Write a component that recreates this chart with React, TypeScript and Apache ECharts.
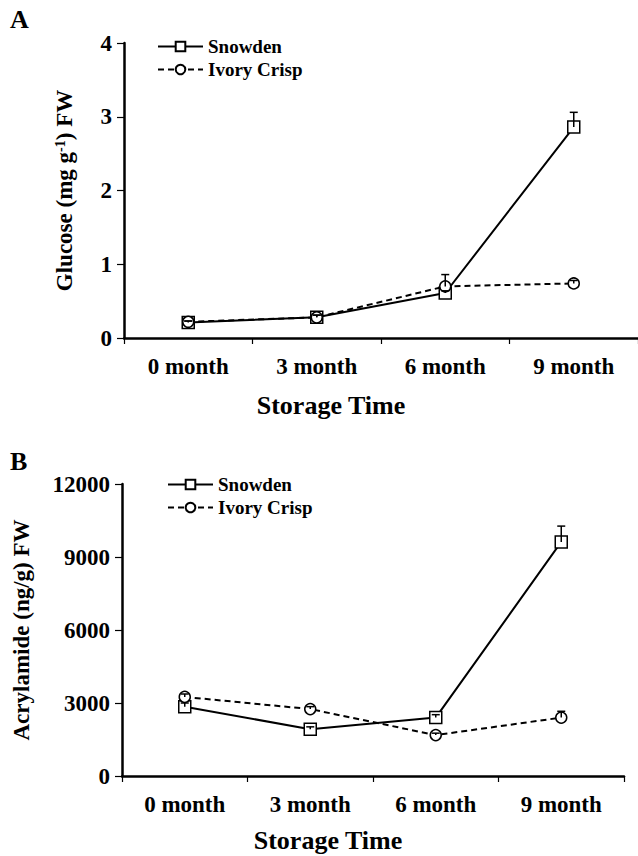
import React, { useEffect, useRef } from "react";
import * as echarts from "echarts";

const categories = ["0 month", "3 month", "6 month", "9 month"];
const glucoseSnowden = [0.21, 0.28, 0.61, 2.86];
const glucoseSnowdenErr = [0.02, 0.03, 0.03, 0.2];
const glucoseIvory = [0.22, 0.28, 0.7, 0.74];
const glucoseIvoryErr = [0.01, 0.03, 0.16, 0.04];
const acrylSnowden = [2850, 1920, 2400, 9620];
const acrylSnowdenErr = [150, 100, 120, 650];
const acrylIvory = [3250, 2750, 1680, 2400];
const acrylIvoryErr = [120, 100, 80, 260];

const FONT = "'Liberation Serif', 'Times New Roman', serif";

function errSeries(idx: number, vals: number[], errs: number[]) {
  return {
    type: "custom",
    xAxisIndex: idx,
    yAxisIndex: idx,
    z: 5,
    silent: true,
    encode: { x: 0, y: 1 },
    data: vals.map((v, i) => [i, v, errs[i]]),
    renderItem: (params: any, api: any) => {
      const x = api.value(0);
      const v = api.value(1);
      const e = api.value(2);
      const p0 = api.coord([x, v]);
      const p1 = api.coord([x, v + e]);
      const style = { stroke: "#000", lineWidth: 1.5 };
      return {
        type: "group",
        children: [
          { type: "line", shape: { x1: p0[0], y1: p0[1], x2: p1[0], y2: p1[1] }, style },
          { type: "line", shape: { x1: p1[0] - 4, y1: p1[1], x2: p1[0] + 4, y2: p1[1] }, style },
        ],
      };
    },
  };
}

function lineSeries(name: string, idx: number, vals: number[], dashed: boolean) {
  return {
    name,
    type: "line",
    xAxisIndex: idx,
    yAxisIndex: idx,
    data: vals,
    symbol: dashed ? "circle" : "rect",
    symbolSize: dashed ? 11 : 12,
    z: dashed ? 4 : 3,
    lineStyle: { color: "#000", width: 2, type: dashed ? [6, 4] : "solid" },
    itemStyle: { color: "#fff", borderColor: "#000", borderWidth: 1.5 },
  };
}

const tickLabel = { fontFamily: FONT, fontWeight: "bold", fontSize: 23, color: "#000" };

function xAxis(idx: number) {
  return {
    type: "category",
    gridIndex: idx,
    data: categories,
    boundaryGap: true,
    axisLine: { lineStyle: { color: "#000", width: 2.5 } },
    axisTick: { show: true, length: 6, lineStyle: { color: "#000", width: 1.2 } },
    axisLabel: { ...tickLabel, margin: 17 },
    splitLine: { show: false },
  };
}

function yAxis(idx: number, max: number, interval: number, name: string, gap: number) {
  return {
    type: "value",
    gridIndex: idx,
    min: 0,
    max,
    interval,
    name,
    nameLocation: "middle",
    nameGap: gap,
    nameMoveOverlap: false,
    nameTextStyle: {
      fontFamily: FONT,
      fontWeight: "bold",
      fontSize: 23,
      color: "#000",
      rich: {
        sup: { fontFamily: FONT, fontWeight: "bold", fontSize: 14, color: "#000", verticalAlign: "top", lineHeight: 14 },
      },
    },
    axisLine: { show: true, lineStyle: { color: "#000", width: 2.5 } },
    axisTick: { show: true, length: 7, lineStyle: { color: "#000", width: 1.2 } },
    axisLabel: { ...tickLabel, margin: 12, formatter: (v: number) => String(v) },
    splitLine: { show: false },
  };
}

function legend(left: number, top: number) {
  return {
    left,
    top,
    padding: 0,
    orient: "vertical",
    itemWidth: 45,
    itemHeight: 12,
    itemGap: 4,
    data: ["Snowden", "Ivory Crisp"],
    textStyle: { fontFamily: FONT, fontWeight: "bold", fontSize: 19, color: "#000" },
    selectedMode: false,
  };
}

export default function App() {
  const ref = useRef<HTMLDivElement>(null);
  useEffect(() => {
    if (!ref.current) return;
    const chart = echarts.init(ref.current, undefined, { renderer: "svg" });
    chart.setOption({
      animation: false,
      backgroundColor: "#fff",
      grid: [
        { left: 124, top: 43, width: 514, height: 295 },
        { left: 122, top: 484, width: 502, height: 292 },
      ],
      xAxis: [xAxis(0), xAxis(1)],
      yAxis: [
        yAxis(0, 4, 1, "Glucose (mg g{sup|-1}) FW", 48),
        yAxis(1, 12000, 3000, "Acrylamide (ng/g) FW", 89),
      ],
      legend: [legend(157, 37), legend(167, 475)],
      graphic: [
        { type: "text", left: 10, top: 6, style: { text: "A", font: `bold 26px ${FONT}`, fill: "#000" } },
        { type: "text", left: 10, top: 448, style: { text: "B", font: `bold 26px ${FONT}`, fill: "#000" } },
        {
          type: "text",
          x: 331,
          y: 405,
          style: { text: "Storage Time", font: `bold 26px ${FONT}`, fill: "#000", align: "center", verticalAlign: "middle" },
        },
        {
          type: "text",
          x: 328,
          y: 840,
          style: { text: "Storage Time", font: `bold 26px ${FONT}`, fill: "#000", align: "center", verticalAlign: "middle" },
        },
      ],
      series: [
        lineSeries("Snowden", 0, glucoseSnowden, false),
        lineSeries("Ivory Crisp", 0, glucoseIvory, true),
        errSeries(0, glucoseSnowden, glucoseSnowdenErr),
        errSeries(0, glucoseIvory, glucoseIvoryErr),
        lineSeries("Snowden", 1, acrylSnowden, false),
        lineSeries("Ivory Crisp", 1, acrylIvory, true),
        errSeries(1, acrylSnowden, acrylSnowdenErr),
        errSeries(1, acrylIvory, acrylIvoryErr),
      ],
    });
    return () => chart.dispose();
  }, []);
  return <div ref={ref} style={{ position: "absolute", left: 0, top: 0, width: 638, height: 856 }} />;
}
